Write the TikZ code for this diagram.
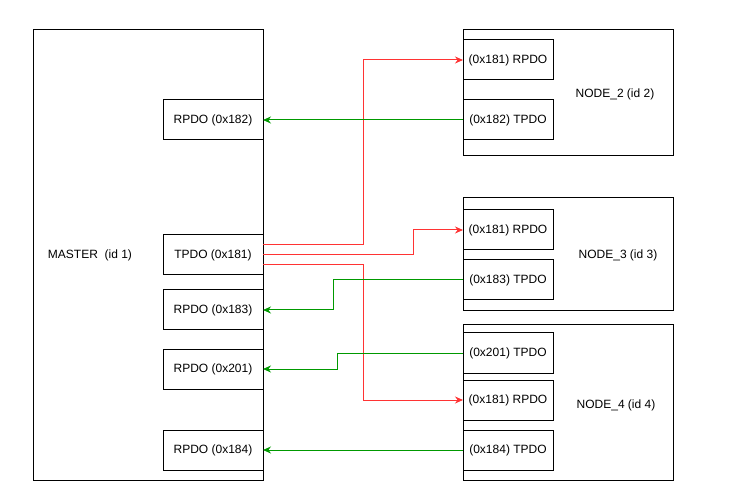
\documentclass[tikz,border=0pt]{standalone}
\usepackage{fontspec}
\setmainfont{Liberation Sans}
\usetikzlibrary{arrows.meta}
\definecolor{sendred}{HTML}{FF3333}
\definecolor{backgreen}{HTML}{009900}
\tikzset{
  box/.style={draw, line width=1pt, inner sep=0pt, outer sep=0pt},
  pdobox/.style={box, minimum height=40pt, font=\fontsize{12}{14}\selectfont},
  mpdo/.style={pdobox, minimum width=100pt},
  npdo/.style={pdobox, minimum width=90pt},
  lbl/.style={font=\fontsize{12}{14}\selectfont, inner sep=0pt},
  redline/.style={draw=sendred, line width=1pt, -{Stealth[length=8pt,width=7pt]}},
  greenline/.style={draw=backgreen, line width=1pt, -{Stealth[length=8pt,width=7pt]}}
}
\begin{document}
\begin{tikzpicture}[x=1pt,y=-1pt]
\useasboundingbox (0,0) rectangle (733,502);
% master
\node[box, minimum width=230pt, minimum height=450pt] (master) at (148,255) {};
\node[lbl] (masterlbl) at (90,255) {MASTER~~(id 1)};
\node[mpdo] (rpdo182) at (213,120) {RPDO (0x182)};
\node[mpdo] (tpdo181) at (213,255) {TPDO (0x181)};
\node[mpdo] (rpdo183) at (213,310) {RPDO (0x183)};
\node[mpdo] (rpdo201) at (213,369) {RPDO (0x201)};
\node[mpdo] (rpdo184) at (213,450) {RPDO (0x184)};
% node 2
\node[box, minimum width=210pt, minimum height=126pt] (node2) at (568,93) {};
\node[lbl] (node2lbl) at (615,94) {NODE\_2 (id 2)};
\node[npdo] (n2rpdo) at (508,60) {(0x181) RPDO};
\node[npdo] (n2tpdo) at (508,120) {(0x182) TPDO};
% node 3
\node[box, minimum width=210pt, minimum height=113pt] (node3) at (568,254.5) {};
\node[lbl] (node3lbl) at (618,255) {NODE\_3 (id 3)};
\node[npdo] (n3rpdo) at (508,230) {(0x181) RPDO};
\node[npdo] (n3tpdo) at (508,280) {(0x183) TPDO};
% node 4
\node[box, minimum width=210pt, minimum height=155pt] (node4) at (568,402.5) {};
\node[lbl] (node4lbl) at (616,405) {NODE\_4 (id 4)};
\node[npdo] (n4tpdo201) at (508,353) {(0x201) TPDO};
\node[npdo] (n4rpdo) at (508,400) {(0x181) RPDO};
\node[npdo] (n4tpdo184) at (508,450) {(0x184) TPDO};
% master TPDO to the nodes
\draw[redline] ([yshift=10pt]tpdo181.east) -- ++(100,0) |- (n2rpdo.west);
\draw[redline] (tpdo181.east) -- ++(150,0) |- (n3rpdo.west);
\draw[redline] ([yshift=-10pt]tpdo181.east) -- ++(100,0) |- (n4rpdo.west);
% node TPDOs back to master
\draw[greenline] (n2tpdo.west) -- (rpdo182.east);
\draw[greenline] (n3tpdo.west) -- ++(-130,0) |- (rpdo183.east);
\draw[greenline] (n4tpdo201.west) -- ++(-126,0) |- (rpdo201.east);
\draw[greenline] (n4tpdo184.west) -- (rpdo184.east);
\end{tikzpicture}
\end{document}
